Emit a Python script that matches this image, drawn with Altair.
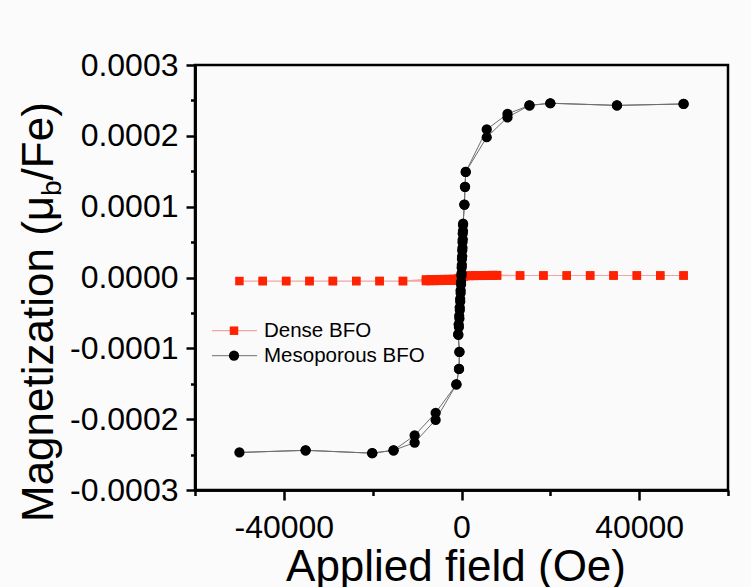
import altair as alt
import pandas as pd

FONT = "Liberation Sans"

# ---------------- data ----------------
# Mesoporous BFO: full loop, descending branch then ascending branch
meso_field = [
    50000, 35000, 20000, 15300, 10350, 5680, 950, 790, 650,
    340, 280, 220, 160, 100, 40, -20, -110, -200, -290, -380, -470, -580, -700,
    -470, -560, -1150, -5820, -10550, -15300, -20100, -35100, -50000,
    -35100, -20100, -15300, -10550, -5820, -1150, -560, -470,
    -760, -640, -520, -400, -300, -200, -100, 0, 80, 150, 220, 280, 330, 360,
    650, 790, 950, 5680, 10350, 15300, 20000, 35000, 50000,
]
meso_moment = [
    2.45e-4, 2.43e-4, 2.46e-4, 2.43e-4, 2.31e-4, 2.09e-4, 1.49e-4, 1.28e-4, 1.03e-4,
    7.4e-5, 6.2e-5, 5.0e-5, 3.8e-5, 2.6e-5, 1.4e-5, 2.0e-6, -1.0e-5, -2.2e-5, -3.4e-5, -4.6e-5, -5.8e-5, -7.0e-5, -8.1e-5,
    -1.05e-4, -1.29e-4, -1.51e-4, -1.91e-4, -2.23e-4, -2.44e-4, -2.48e-4, -2.44e-4, -2.47e-4,
    -2.44e-4, -2.48e-4, -2.44e-4, -2.33e-4, -2.01e-4, -1.51e-4, -1.29e-4, -1.05e-4,
    -8.0e-5, -6.6e-5, -5.4e-5, -4.2e-5, -3.0e-5, -1.8e-5, -6.0e-6, 6.0e-6, 1.8e-5, 3.0e-5, 4.2e-5, 5.4e-5, 6.6e-5, 7.6e-5,
    1.03e-4, 1.28e-4, 1.49e-4, 1.98e-4, 2.26e-4, 2.43e-4, 2.46e-4, 2.43e-4, 2.45e-4,
]

# Dense BFO: full loop, descending branch then ascending branch
dense_field = [
    50000, 44740, 39480, 34220, 28960, 23700, 18440, 13180,
    8000, 7000, 6000, 5000, 4000, 3000, 2000, 1000, 500, 0,
    -500, -1000, -2000, -3000, -4000, -5000, -6000, -7000, -8000,
    -13180, -18440, -23700, -28960, -34220, -39480, -44740, -50000,
    -44740, -39480, -34220, -28960, -23700, -18440, -13180,
    -8000, -7000, -6000, -5000, -4000, -3000, -2000, -1000, -500, 0,
    500, 1000, 2000, 3000, 4000, 5000, 6000, 7000, 8000,
    13180, 18440, 23700, 28960, 34220, 39480, 44740, 50000,
]
dense_moment = [
    2.8e-6, 2.8e-6, 2.8e-6, 2.8e-6, 2.8e-6, 2.8e-6, 2.8e-6, 2.8e-6,
    3.4e-6, 3.4e-6, 3.3e-6, 3.2e-6, 3.1e-6, 3.0e-6, 2.8e-6, 2.5e-6, 2.0e-6, 1.0e-6,
    -1.0e-6, -1.8e-6, -2.0e-6, -2.2e-6, -2.3e-6, -2.4e-6, -2.5e-6, -2.6e-6, -2.7e-6,
    -5.0e-6, -5.0e-6, -5.0e-6, -5.0e-6, -5.0e-6, -5.0e-6, -5.0e-6, -5.0e-6,
    -5.0e-6, -5.0e-6, -5.0e-6, -5.0e-6, -5.0e-6, -5.0e-6, -5.0e-6,
    -5.0e-6, -4.9e-6, -4.8e-6, -4.7e-6, -4.6e-6, -4.5e-6, -4.4e-6, -4.3e-6, -4.0e-6, -2.5e-6,
    1.5e-6, 2.0e-6, 2.2e-6, 2.3e-6, 2.4e-6, 2.4e-6, 2.5e-6, 2.5e-6, 2.6e-6,
    2.8e-6, 2.8e-6, 2.8e-6, 2.8e-6, 2.8e-6, 2.8e-6, 2.8e-6, 2.8e-6,
]

series_names = ["Dense BFO", "Mesoporous BFO"]
x_title = "Applied field (Oe)"
y_title_parts = ["Magnetization (\u03bc", "b", "/Fe)"]

x_major_ticks = [-40000, 0, 40000]
x_minor_ticks = [-60000, -20000, 20000, 60000]
y_major_ticks = [-0.0003, -0.0002, -0.0001, 0.0, 0.0001, 0.0002, 0.0003]
y_minor_ticks = [-0.00025, -0.00015, -0.00005, 0.00005, 0.00015, 0.00025]

meso_df = pd.DataFrame({"H": meso_field, "M": meso_moment, "seq": range(len(meso_field))})
dense_df = pd.DataFrame({"H": dense_field, "M": dense_moment, "seq": range(len(dense_field))})

# ---------------- layout ----------------
W, H = 533, 425
PAD_L, PAD_T = 195, 65
PAD_R, PAD_B = 751 - PAD_L - W, 587 - PAD_T - H

xs = alt.Scale(domain=[-60000, 60000], nice=False, zero=False)
ys = alt.Scale(domain=[-0.0003, 0.0003], nice=False, zero=False)

common_axis = dict(
    grid=False, title=None, domainColor="black", domainWidth=2.5,
    tickColor="black", tickWidth=2.5, labelFont=FONT, labelFontSize=32,
    labelColor="black",
)
x_axis = alt.Axis(
    values=x_major_ticks, tickSize=10, labelPadding=12, orient="bottom",
    labelExpr="datum.value < 0 ? '-' + format(-datum.value, 'd') : format(datum.value, 'd')",
    **common_axis,
)
y_axis = alt.Axis(
    values=y_major_ticks, tickSize=9, labelPadding=8, orient="left",
    labelExpr="datum.value < 0 ? '-' + format(-datum.value, '.4f') : format(datum.value, '.4f')",
    **common_axis,
)
x_minor = alt.Axis(values=x_minor_ticks, tickSize=5.5, labels=False, orient="bottom", **common_axis)
y_minor = alt.Axis(values=y_minor_ticks, tickSize=4.5, labels=False, orient="left", **common_axis)

RED = "#ff2200"
PINK = "#f2a5a5"
GREY = "#6e6e6e"
SQ_SIZE = 72
DOT_SIZE = 105

enc_x = alt.X("H:Q", scale=xs, axis=x_axis)
enc_y = alt.Y("M:Q", scale=ys, axis=y_axis)

dense_line = alt.Chart(dense_df).mark_line(color=PINK, strokeWidth=1.2).encode(
    x=enc_x, y=enc_y, order="seq:Q")
dense_pts = alt.Chart(dense_df).mark_point(shape="square", filled=True, size=SQ_SIZE, color=RED, opacity=1).encode(
    x=enc_x, y=enc_y)
meso_line = alt.Chart(meso_df).mark_line(color=GREY, strokeWidth=1).encode(
    x=enc_x, y=enc_y, order="seq:Q")
meso_pts = alt.Chart(meso_df).mark_point(shape="circle", filled=True, size=DOT_SIZE, color="black", opacity=1).encode(
    x=enc_x, y=enc_y)

data_layer = alt.layer(dense_line, dense_pts, meso_line, meso_pts)

minor_layer = alt.Chart(meso_df).mark_point(opacity=0).encode(
    x=alt.X("H:Q", scale=xs, axis=x_minor),
    y=alt.Y("M:Q", scale=ys, axis=y_minor),
)

one = pd.DataFrame({"k": [0]})

def txt(text, x, y, size, angle=0, align="left", baseline="alphabetic"):
    kw = dict(font=FONT, fontSize=size, color="black", align=align, baseline=baseline)
    if angle:
        kw["angle"] = angle
    return alt.Chart(one).mark_text(**kw).encode(
        x=alt.value(x), y=alt.value(y), text=alt.value(text))

# legend (positions relative to the plot origin)
leg = [
    alt.Chart(one).mark_rule(color=PINK, strokeWidth=1.2).encode(
        x=alt.value(17), x2=alt.value(62), y=alt.value(265.7)),
    alt.Chart(one).mark_point(shape="square", filled=True, size=SQ_SIZE, color=RED, opacity=1).encode(
        x=alt.value(39), y=alt.value(265.7)),
    txt(series_names[0], 69, 272, 20.5),
    alt.Chart(one).mark_rule(color=GREY, strokeWidth=1).encode(
        x=alt.value(17), x2=alt.value(62), y=alt.value(290.7)),
    alt.Chart(one).mark_point(shape="circle", filled=True, size=DOT_SIZE, color="black", opacity=1).encode(
        x=alt.value(39), y=alt.value(290.7)),
    txt(series_names[1], 69, 297, 20.5),
]

# axis titles
TS = 44
y0 = 522 - PAD_T
w1, w2 = 326, 15.6
titles = [
    txt(x_title, 456 - PAD_L, 581 - PAD_T, TS, align="center"),
    txt(y_title_parts[0], 53 - PAD_L, y0, TS, angle=270),
    txt(y_title_parts[1], 61 - PAD_L, y0 - w1, 28, angle=270),
    txt(y_title_parts[2], 53 - PAD_L, y0 - w1 - w2, TS, angle=270),
]

chart = alt.layer(data_layer, minor_layer, *leg, *titles).resolve_axis(
    x="independent", y="independent"
).properties(
    width=W, height=H,
    autosize=alt.AutoSizeParams(type="none"),
    padding={"left": PAD_L, "top": PAD_T, "right": PAD_R, "bottom": PAD_B},
    background="#fbfbfb",
).configure_view(
    stroke="black", strokeWidth=2.5, fill="#fafafa"
)

chart.save("out.html", embed_options={"renderer": "svg", "actions": False})
